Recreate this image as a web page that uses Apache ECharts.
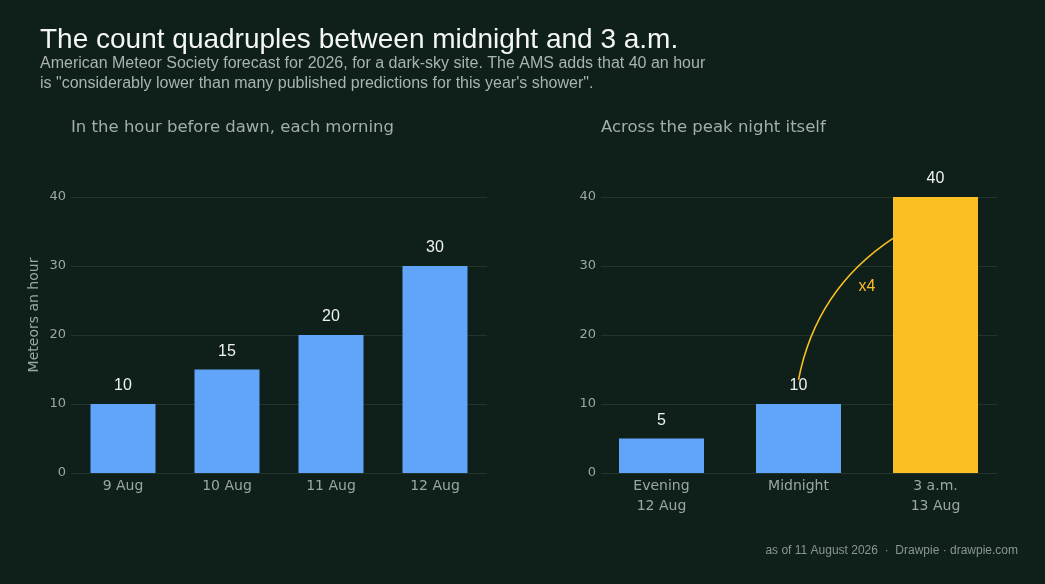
<!DOCTYPE html>
<html><head><meta charset="utf-8">
<script src="https://cdn.jsdelivr.net/npm/echarts@6/dist/echarts.min.js"></script>
<style>html,body{margin:0;padding:0;background:#0f1f1a;}#c{width:1045px;height:584px;}</style>
</head><body><div id="c"></div>
<script>
const dawnCategories = ['9 Aug', '10 Aug', '11 Aug', '12 Aug'];
const dawnValues = [10, 15, 20, 30];
const peakCategories = ['Evening\n12 Aug', 'Midnight', '3 a.m.\n13 Aug'];
const peakValues = [5, 10, 40];
const peakHighlight = 2;
const yTicks = { min: 0, max: 40, interval: 10 };
const multiplierText = 'x4';

const BG = '#0f1f1a', BLUE = '#60a5fa', GOLD = '#fbbf24', GRID = '#24342d', AXT = '#9aa8a0';
const chart = echarts.init(document.getElementById('c'), null, { renderer: 'canvas' });

function yAx(idx, showGrid) {
  return {
    type: 'value', gridIndex: idx, min: yTicks.min, max: yTicks.max, interval: yTicks.interval,
    axisLine: { show: false }, axisTick: { show: false },
    splitLine: { show: showGrid, lineStyle: { color: GRID, width: 1 } },
    axisLabel: { show: showGrid, color: AXT, fontFamily: 'DejaVu Sans', fontSize: 13, margin: 5, padding: [4, 0, 0, 0] }
  };
}
function xAx(idx, cats) {
  return {
    type: 'category', gridIndex: idx, data: cats,
    axisLine: { show: false }, axisTick: { show: false },
    axisLabel: { color: AXT, fontFamily: 'DejaVu Sans', fontSize: 14, margin: 3, lineHeight: 20, interval: 0 }
  };
}
const labelStyle = { show: true, position: 'top', distance: 10, color: '#eef2ef', fontFamily: 'Liberation Sans', fontSize: 16 };
const ttl = (text, left, top, color, family, size, extra) => Object.assign({
  text, left, top, padding: 0,
  textStyle: Object.assign({ color, fontFamily: family, fontSize: size, fontWeight: 'normal' }, extra || {})
});

const option = {
  backgroundColor: BG,
  animation: false,
  title: [
    ttl('The count quadruples between midnight and 3 a.m.', 40, 26, '#f4f6f5', 'Liberation Sans', 28),
    ttl('American Meteor Society forecast for 2026, for a dark-sky site. The AMS adds that 40 an hour\nis "considerably lower than many published predictions for this year\'s shower".',
      40, 54, '#aab4af', 'Liberation Sans', 16, { lineHeight: 20 }),
    ttl('In the hour before dawn, each morning', 71, 119, '#a3aea8', 'DejaVu Sans', 16.5),
    ttl('Across the peak night itself', 601, 119, '#a3aea8', 'DejaVu Sans', 16.5),
    { text: 'as of 11 August 2026  ·  Drawpie · drawpie.com', right: 27, top: 545, padding: 0,
      textStyle: { color: '#8b9690', fontFamily: 'Liberation Sans', fontSize: 12, fontWeight: 'normal' } }
  ],
  grid: [
    { left: 71, right: 558, top: 197, bottom: 111 },   // dawn bars
    { left: 593, right: 41, top: 197, bottom: 111 },   // peak bars
    { left: 601, right: 48, top: 197, bottom: 111 }    // peak gridlines
  ],
  xAxis: [
    xAx(0, dawnCategories),
    xAx(1, peakCategories),
    { type: 'value', gridIndex: 2, min: 0, max: 1, show: false }
  ],
  yAxis: [yAx(0, true), yAx(1, false), yAx(2, true)],
  series: [
    { type: 'bar', xAxisIndex: 0, yAxisIndex: 0, data: dawnValues, barWidth: 65,
      itemStyle: { color: BLUE }, label: labelStyle },
    { type: 'bar', xAxisIndex: 1, yAxisIndex: 1, barWidth: 85,
      data: peakValues.map((v, i) => ({ value: v, itemStyle: { color: i === peakHighlight ? GOLD : BLUE } })),
      label: labelStyle }
  ]
};
chart.setOption(option);

// annotation curve computed from the chart's own scales
const fromIdx = 1, toIdx = peakHighlight;
const p0 = chart.convertToPixel({ gridIndex: 1 }, [fromIdx, peakValues[fromIdx] + 3.5]);
const p1c = chart.convertToPixel({ gridIndex: 1 }, [toIdx, peakValues[toIdx] * 0.85]);
const p1 = [p1c[0] - 85 / 2, p1c[1]];
const mid = [(p0[0] + p1[0]) / 2, (p0[1] + p1[1]) / 2];
const dx = p1[0] - p0[0], dy = p1[1] - p0[1], len = Math.hypot(dx, dy);
let perp = [dy / len, -dx / len];
if (perp[1] > 0) perp = [-perp[0], -perp[1]];
const off = len * 0.21;
const cpt = [mid[0] + perp[0] * off, mid[1] + perp[1] * off];
const yLbl = chart.convertToPixel({ gridIndex: 1 }, [toIdx, peakValues[toIdx] * 0.68]);
const lblX = (p0[0] + p1c[0]) / 2;
chart.setOption({
  graphic: [
    { type: 'bezierCurve', shape: { x1: p0[0], y1: p0[1], x2: p1[0], y2: p1[1], cpx1: cpt[0], cpy1: cpt[1] },
      style: { stroke: GOLD, lineWidth: 1.6, fill: null }, z: 10 },
    { type: 'text', x: lblX, y: yLbl[1] + 1, z: 10,
      style: { text: multiplierText, fill: GOLD, fontSize: 16, fontFamily: 'Liberation Sans', align: 'center', verticalAlign: 'middle' } },
    { type: 'text', x: 34, y: 315, rotation: Math.PI / 2,
      style: { text: 'Meteors an hour', fill: AXT, fontSize: 14, fontFamily: 'DejaVu Sans', align: 'center', verticalAlign: 'middle' } }
  ]
});
</script></body></html>
